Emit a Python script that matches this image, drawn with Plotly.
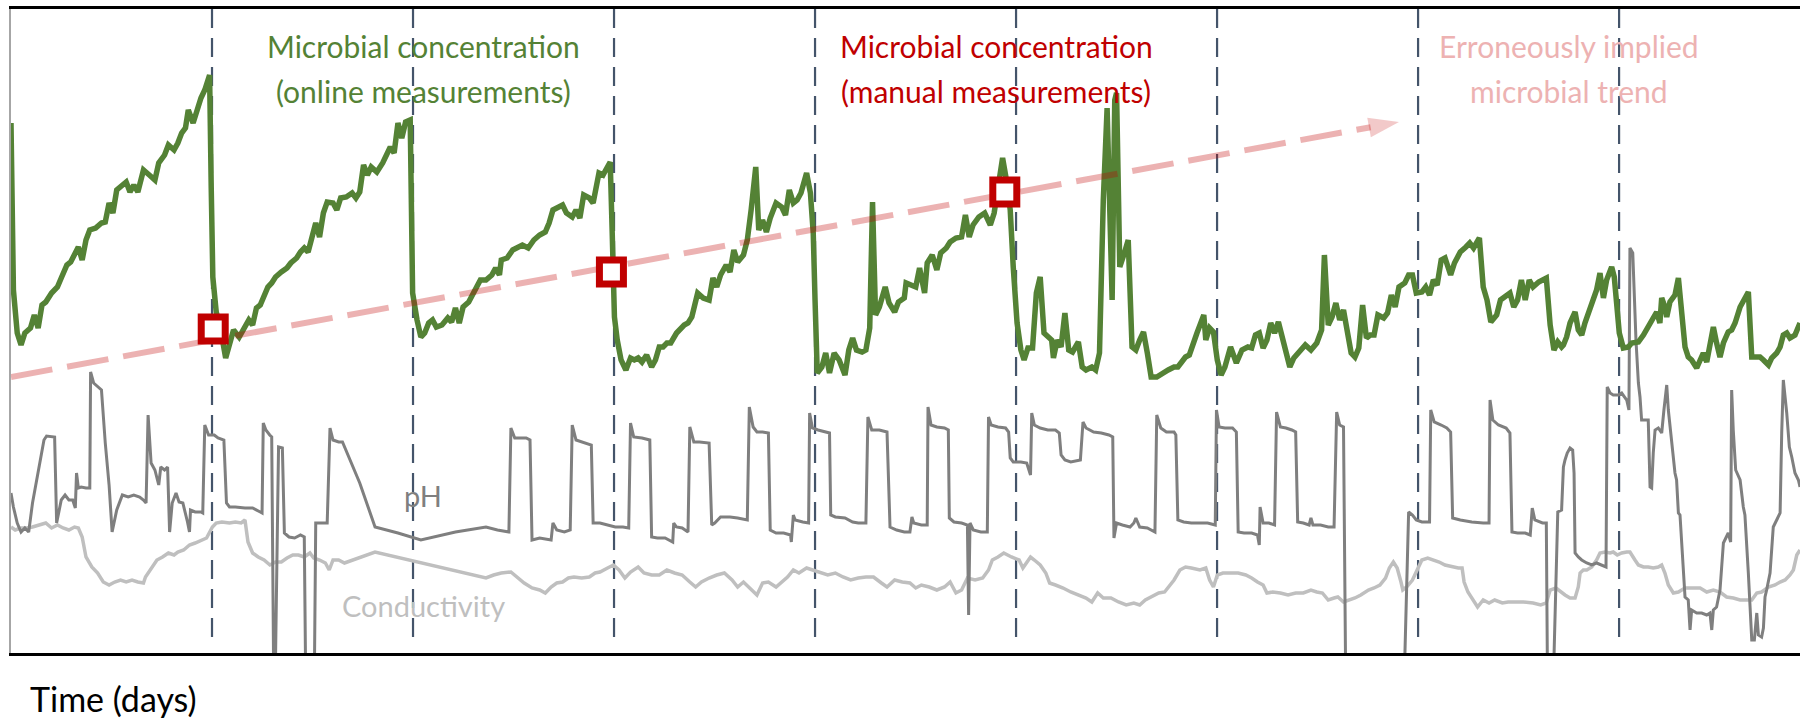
import plotly.graph_objects as go

# ---- data (x in days, y in arbitrary signal units) ----
green_readings = [
(0.000,530),(0.012,363),(0.031,320),(0.050,308),(0.069,320),(0.097,325),(0.116,338),(0.135,325),(0.154,348),(0.173,351),(0.202,360),(0.231,366),(0.250,375),(0.278,388),(0.297,391),(0.316,400),(0.335,406),(0.354,393),(0.373,413),(0.392,423),(0.421,425),(0.450,430),(0.469,431),(0.488,450),(0.507,440),(0.526,463),(0.545,466),(0.573,471),(0.592,461),(0.611,468),(0.631,461),(0.659,483),(0.688,478),(0.716,473),(0.735,490),(0.764,498),(0.783,508),(0.811,503),(0.830,510),(0.849,520),(0.868,525),(0.882,543),(0.906,530),(0.926,543),(0.945,555),(0.964,563),(0.988,578),(0.996,466),(1.004,376),(1.021,341),(1.046,320),(1.068,295),(1.087,310),(1.107,323),(1.135,316),(1.154,323),(1.183,333),(1.202,328),(1.221,345),(1.240,348),(1.259,358),(1.278,366),(1.297,370),(1.316,376),(1.345,381),(1.373,385),(1.392,390),(1.421,395),(1.440,401),(1.459,405),(1.478,401),(1.497,416),(1.516,430),(1.535,416),(1.554,440),(1.573,451),(1.602,450),(1.621,443),(1.640,455),(1.668,456),(1.697,460),(1.716,455),(1.735,461),(1.754,488),(1.773,478),(1.792,486),(1.820,481),(1.849,490),(1.868,498),(1.887,506),(1.906,500),(1.925,530),(1.944,515),(1.963,531),(1.986,533),(1.998,360),(2.020,333),(2.039,316),(2.058,320),(2.078,330),(2.097,333),(2.116,326),(2.144,328),(2.173,335),(2.192,331),(2.211,345),(2.230,330),(2.249,346),(2.277,351),(2.306,361),(2.335,373),(2.363,373),(2.392,378),(2.411,385),(2.430,378),(2.439,393),(2.468,395),(2.496,403),(2.525,406),(2.544,408),(2.573,405),(2.601,413),(2.630,418),(2.658,421),(2.677,430),(2.696,443),(2.725,446),(2.744,448),(2.763,440),(2.792,436),(2.811,443),(2.830,435),(2.849,458),(2.877,455),(2.896,450),(2.925,480),
(2.945,478),(2.959,483),(2.972,490),(2.981,491),(2.991,420),(3.002,336),(3.016,313),(3.035,293),(3.059,283),(3.082,295),(3.101,293),(3.120,295),(3.139,291),(3.162,298),(3.187,286),(3.206,293),(3.225,306),(3.244,306),(3.263,310),(3.282,310),(3.311,320),(3.330,325),(3.349,328),(3.368,330),(3.387,336),(3.416,360),(3.444,355),(3.473,353),(3.492,375),(3.511,366),(3.530,378),(3.558,388),(3.577,381),(3.596,403),(3.615,391),(3.644,398),(3.663,413),(3.682,443),(3.692,463),(3.705,486),(3.720,423),(3.739,433),(3.758,421),(3.777,435),(3.806,450),(3.834,446),(3.853,438),(3.872,463),(3.892,450),(3.911,453),(3.930,460),(3.958,480),(3.977,460),(3.991,420),(4.000,353),(4.011,280),(4.034,286),(4.053,300),(4.072,280),(4.095,300),(4.120,293),(4.149,278),(4.168,303),(4.187,315),(4.206,303),(4.234,301),(4.253,303),(4.272,325),(4.286,451),(4.301,338),(4.320,346),(4.349,366),(4.368,350),(4.396,341),(4.415,351),(4.444,355),(4.453,370),(4.482,368),(4.501,366),(4.520,385),(4.545,360),(4.558,390),(4.583,398),(4.606,383),(4.625,400),(4.653,405),(4.672,411),(4.701,415),(4.729,416),(4.748,438),(4.767,416),(4.786,428),(4.815,436),(4.844,440),(4.872,428),(4.891,440),(4.910,463),(4.933,495),(4.952,473),(4.971,443),(4.986,386),(5.005,330),(5.024,303),(5.040,293),(5.059,305),(5.082,305),(5.101,360),(5.120,376),(5.139,320),(5.158,316),(5.177,313),(5.186,295),(5.205,313),(5.224,306),(5.243,340),(5.262,303),(5.281,301),(5.310,311),(5.329,286),(5.348,283),(5.377,286),(5.396,283),(5.415,300),(5.434,453),(5.453,545),(5.478,353),(5.491,553),(5.500,560),(5.516,386),(5.539,400),(5.558,413),(5.577,306),(5.596,303),(5.615,313),(5.634,321),(5.653,300),(5.672,276),(5.700,276),(5.729,280),(5.757,283),(5.786,286),(5.805,286),(5.824,291),(5.843,296),(5.862,298),(5.881,310),(5.900,320),
(5.934,338),(5.944,313),(5.963,325),(5.982,321),(6.001,293),(6.020,278),(6.039,286),(6.067,306),(6.096,290),(6.124,303),(6.153,306),(6.172,305),(6.191,318),(6.210,320),(6.229,305),(6.248,313),(6.267,330),(6.286,320),(6.305,331),(6.334,305),(6.362,286),(6.382,295),(6.410,301),(6.439,308),(6.467,303),(6.496,310),(6.520,323),(6.534,398),(6.553,328),(6.572,336),(6.591,350),(6.610,333),(6.629,343),(6.648,320),(6.667,300),(6.686,296),(6.705,305),(6.724,348),(6.743,315),(6.762,318),(6.781,318),(6.800,338),(6.829,335),(6.848,340),(6.867,358),(6.886,346),(6.905,366),(6.934,370),(6.953,378),(6.972,378),(6.991,360),(7.019,361),(7.038,366),(7.057,358),(7.076,373),(7.095,368),(7.115,393),(7.134,395),(7.162,378),(7.181,390),(7.210,401),(7.238,406),(7.257,410),(7.276,405),(7.305,415),(7.324,366),(7.343,353),(7.362,331),(7.391,338),(7.410,353),(7.438,358),(7.457,360),(7.476,346),(7.495,353),(7.514,373),(7.533,353),(7.553,373),(7.572,366),(7.600,371),(7.619,373),(7.638,375),(7.657,328),(7.676,303),(7.695,311),(7.714,306),
(7.723,308),(7.739,316),(7.756,330),(7.781,341),(7.797,323),(7.814,318),(7.830,330),(7.855,343),(7.872,351),(7.888,363),(7.905,380),(7.922,355),(7.938,373),(7.963,386),(7.976,376),(7.988,346),(8.001,320),(8.021,305),(8.046,306),(8.063,310),(8.079,310),(8.096,311),(8.121,318),(8.145,326),(8.170,335),(8.187,341),(8.203,330),(8.212,355),(8.228,346),(8.237,336),(8.253,351),(8.278,358),(8.295,375),(8.311,346),(8.328,306),(8.344,296),(8.361,293),(8.386,285),(8.402,291),(8.419,300),(8.436,291),(8.452,306),(8.469,326),(8.485,310),(8.502,296),(8.519,310),(8.543,321),(8.560,323),(8.577,330),(8.602,346),(8.618,353),(8.643,361),(8.660,296),(8.676,296),(8.701,296),(8.718,293),(8.743,288),(8.759,295),(8.784,300),(8.801,306),(8.817,318),(8.834,320),(8.850,315),(8.875,318),(8.900,330),
]

ph_readings = [
(0.000,160),(0.012,146),(0.031,130),(0.050,121),(0.069,125),(0.088,121),(0.107,150),(0.135,180),(0.164,213),(0.177,217),(0.202,216),(0.217,216),(0.227,130),(0.250,153),(0.269,158),(0.288,153),(0.307,153),(0.320,145),(0.326,180),(0.335,165),(0.349,166),(0.373,165),(0.392,165),(0.396,281),(0.411,270),(0.431,266),(0.450,263),(0.469,210),(0.488,168),(0.503,121),(0.526,143),(0.554,158),(0.583,156),(0.611,158),(0.640,156),(0.659,153),(0.672,150),(0.682,238),(0.697,190),(0.716,183),(0.735,168),(0.745,186),(0.764,183),(0.779,186),(0.789,121),(0.802,150),(0.821,160),(0.836,151),(0.855,150),(0.878,131),(0.888,121),(0.893,143),(0.916,141),(0.945,141),(0.954,140),(0.964,228),(0.983,218),(1.011,218),(1.030,215),(1.059,213),(1.072,150),(1.087,146),(1.116,146),(1.164,145),(1.202,145),(1.240,141),(1.249,140),(1.255,230),(1.268,223),(1.287,218),(1.297,216),(1.306,-5),(1.316,-5),(1.331,206),(1.350,205),(1.360,120),(1.383,116),(1.411,115),(1.440,118),(1.459,116),(1.465,-5),(1.510,-5),(1.516,130),(1.545,130),(1.573,130),(1.587,225),(1.602,213),(1.630,211),(1.649,211),(1.735,170),(1.811,126),(1.925,120),(2.039,113),(2.211,121),(2.363,126),(2.420,123),(2.477,121),(2.487,225),(2.506,215),(2.563,215),(2.582,213),(2.592,113),(2.630,115),(2.687,113),(2.696,130),(2.715,123),(2.753,121),(2.782,123),(2.792,228),(2.811,213),(2.858,210),(2.887,208),(2.896,130),(2.930,130),
(2.968,128),(3.006,126),(3.044,126),(3.073,125),(3.082,230),(3.098,216),(3.139,215),(3.178,213),(3.187,116),(3.216,115),(3.254,115),(3.292,111),(3.297,130),(3.311,126),(3.339,125),(3.368,121),(3.377,226),(3.397,211),(3.425,211),(3.473,210),(3.486,128),(3.501,130),(3.530,136),(3.577,136),(3.615,135),(3.663,133),(3.673,246),(3.692,226),(3.711,221),(3.739,221),(3.768,220),(3.777,123),(3.806,120),(3.844,120),(3.878,118),(3.882,111),(3.892,138),(3.901,133),(3.939,131),(3.968,130),(3.973,240),(3.987,225),(4.015,223),(4.053,221),(4.072,220),(4.078,138),(4.101,136),(4.149,135),(4.187,131),(4.215,130),(4.253,130),(4.263,236),(4.282,223),(4.320,223),(4.358,221),(4.373,126),(4.406,123),(4.444,121),(4.472,121),(4.482,136),(4.491,130),(4.529,128),(4.558,128),(4.562,246),(4.577,228),(4.606,226),(4.644,225),(4.663,223),(4.668,135),(4.691,131),(4.729,130),(4.758,128),(4.764,38),(4.771,130),(4.787,123),(4.825,121),(4.857,121),(4.863,236),(4.876,228),(4.910,226),(4.948,225),(4.963,221),(4.971,195),(4.986,191),(5.024,191),(5.053,190),(5.072,178),(5.078,240),(5.091,228),(5.120,225),(5.158,223),(5.196,223),(5.215,220),(5.224,198),(5.243,193),(5.272,191),(5.320,193),(5.333,231),(5.348,225),(5.386,221),(5.424,220),(5.462,218),(5.481,216),(5.487,115),(5.500,130),(5.529,128),(5.567,126),(5.586,130),(5.596,135),(5.615,126),(5.653,125),(5.691,121),(5.700,238),(5.720,225),(5.748,221),(5.786,221),(5.795,218),(5.805,133),(5.834,131),(5.872,130),(5.915,130),
(5.953,130),(5.991,128),(5.997,243),(6.010,226),(6.039,225),(6.077,225),(6.096,221),(6.105,121),(6.134,120),(6.172,120),(6.201,118),(6.210,108),(6.214,146),(6.229,130),(6.258,130),(6.286,128),(6.296,241),(6.315,226),(6.343,225),(6.372,223),(6.391,221),(6.401,131),(6.429,130),(6.458,128),(6.467,135),(6.477,128),(6.515,128),(6.553,126),(6.582,126),(6.595,241),(6.610,228),(6.629,226),(6.639,-5),(6.934,-5),(6.953,141),(6.972,138),(6.991,133),(7.019,131),(7.057,131),(7.063,243),(7.080,231),(7.115,228),(7.143,225),(7.162,221),(7.172,135),(7.210,133),(7.267,131),(7.324,130),(7.353,130),(7.358,253),(7.372,233),(7.400,228),(7.438,225),(7.457,220),(7.467,121),(7.495,120),(7.533,120),(7.558,118),(7.568,145),(7.581,133),(7.619,130),(7.638,130),(7.643,-5),(7.676,-5),(7.695,141),(7.714,143),
(7.723,186),(7.731,193),(7.742,200),(7.756,205),(7.769,203),(7.776,180),(7.781,100),(7.797,96),(7.814,93),(7.839,90),(7.864,88),(7.888,90),(7.913,88),(7.935,86),(7.941,266),(7.955,260),(7.971,258),(7.996,258),(8.013,260),(8.029,256),(8.038,253),(8.049,243),(8.054,405),(8.068,400),(8.074,363),(8.084,313),(8.096,270),(8.104,256),(8.112,233),(8.129,233),(8.145,233),(8.154,166),(8.162,165),(8.170,200),(8.179,223),(8.195,225),(8.212,220),(8.223,243),(8.237,268),(8.245,243),(8.262,213),(8.278,180),(8.286,173),(8.295,140),(8.303,138),(8.316,93),(8.328,56),(8.344,53),(8.353,23),(8.361,43),(8.386,40),(8.411,40),(8.436,38),(8.452,40),(8.461,23),(8.469,43),(8.485,46),(8.502,63),(8.519,110),(8.543,120),(8.555,111),(8.560,263),(8.568,223),(8.580,183),(8.602,173),(8.618,146),(8.626,138),(8.643,80),(8.651,53),(8.660,13),(8.673,13),(8.685,40),(8.693,18),(8.709,16),(8.718,25),(8.726,56),(8.734,63),(8.751,80),(8.767,126),(8.784,133),(8.801,140),(8.809,220),(8.817,273),(8.834,240),(8.847,206),(8.859,196),(8.875,180),(8.892,173),(8.900,166),
]

conductivity_readings = [
(0.000,126),(0.021,123),(0.050,125),(0.078,125),(0.107,126),(0.135,128),(0.173,130),(0.202,125),(0.231,128),(0.259,125),(0.288,123),(0.316,126),(0.335,125),(0.354,116),(0.373,96),(0.402,86),(0.431,80),(0.459,71),(0.488,68),(0.516,71),(0.545,73),(0.573,71),(0.602,73),(0.631,71),(0.659,70),(0.669,76),(0.697,85),(0.726,93),(0.754,96),(0.783,100),(0.811,98),(0.830,101),(0.859,103),(0.888,108),(0.916,110),(0.945,113),(0.973,115),(1.002,126),(1.021,130),(1.049,131),(1.087,130),(1.116,131),(1.145,130),(1.164,133),(1.179,111),(1.202,100),(1.230,96),(1.259,93),(1.288,88),(1.316,91),(1.345,91),(1.373,95),(1.402,98),(1.430,98),(1.459,96),(1.487,100),(1.506,95),(1.535,93),(1.564,90),(1.583,83),(1.602,93),(1.630,93),(1.659,90),(1.811,101),(2.363,75),(2.401,78),(2.439,80),(2.487,81),(2.525,75),(2.553,70),(2.592,65),(2.630,63),(2.658,60),(2.687,66),(2.715,70),(2.744,71),(2.773,75),(2.801,76),(2.839,75),(2.877,76),(2.906,80),
(2.930,81),(2.968,85),(2.997,88),(3.025,83),(3.054,75),(3.082,81),(3.120,86),(3.149,80),(3.187,78),(3.225,78),(3.263,83),(3.301,80),(3.339,78),(3.377,71),(3.406,66),(3.435,71),(3.473,75),(3.511,78),(3.549,80),(3.587,73),(3.615,66),(3.644,71),(3.682,63),(3.711,58),(3.739,70),(3.768,71),(3.806,66),(3.834,71),(3.863,76),(3.892,83),(3.920,80),(3.958,85),(3.987,83),(4.025,80),(4.063,78),(4.101,80),(4.139,76),(4.177,73),(4.215,75),(4.253,76),(4.291,76),(4.330,70),(4.358,66),(4.396,73),(4.434,71),(4.472,70),(4.501,65),(4.529,68),(4.568,66),(4.606,63),(4.644,66),(4.672,71),(4.701,60),(4.729,63),(4.758,75),(4.796,73),(4.834,75),(4.863,83),(4.882,93),(4.910,96),(4.939,100),(4.977,96),(5.015,93),(5.034,85),(5.053,90),(5.072,96),(5.091,93),(5.120,88),(5.148,80),(5.167,70),(5.196,68),(5.234,65),(5.272,61),(5.310,58),(5.348,55),(5.377,51),(5.406,60),(5.434,55),(5.472,55),(5.510,51),(5.548,48),(5.586,50),(5.615,48),(5.643,53),(5.672,56),(5.710,60),(5.739,61),(5.767,68),(5.786,73),(5.815,83),(5.843,86),(5.872,85),
(5.915,83),(5.944,85),(5.963,73),(5.982,66),(6.001,78),(6.029,80),(6.067,80),(6.105,80),(6.143,78),(6.172,75),(6.201,71),(6.229,68),(6.248,60),(6.277,61),(6.315,60),(6.353,58),(6.391,60),(6.429,60),(6.467,63),(6.496,61),(6.524,60),(6.553,53),(6.582,55),(6.601,56),(6.629,51),(6.658,53),(6.686,55),(6.715,58),(6.753,63),(6.781,65),(6.810,68),(6.838,75),(6.857,85),(6.877,91),(6.896,85),(6.915,71),(6.924,63),(6.943,66),(6.972,73),(7.000,85),(7.019,93),(7.048,95),(7.076,93),(7.105,91),(7.134,88),(7.172,86),(7.200,85),(7.219,85),(7.229,71),(7.248,61),(7.276,53),(7.296,46),(7.324,53),(7.353,50),(7.381,53),(7.419,50),(7.448,51),(7.486,51),(7.524,51),(7.572,50),(7.610,48),(7.638,50),(7.657,63),(7.686,65),(7.714,60),
(7.731,58),(7.756,55),(7.781,55),(7.797,66),(7.806,80),(7.822,83),(7.839,83),(7.864,86),(7.888,93),(7.905,100),(7.930,101),(7.955,100),(7.971,101),(7.991,98),(8.013,100),(8.038,101),(8.054,101),(8.079,93),(8.096,88),(8.121,86),(8.145,86),(8.170,85),(8.195,86),(8.212,88),(8.228,80),(8.245,68),(8.270,60),(8.295,61),(8.328,65),(8.361,65),(8.403,65),(8.436,61),(8.469,63),(8.502,61),(8.535,56),(8.568,55),(8.602,53),(8.635,53),(8.660,53),(8.685,60),(8.709,61),(8.743,66),(8.776,68),(8.801,71),(8.826,73),(8.850,78),(8.867,83),(8.884,98),(8.900,103),
]

manual_days = [1.006, 2.987, 4.944]
manual_values = [324, 381, 461]

trend_days = [0.0, 6.905]
trend_values = [276, 531]

event_days = [1, 2, 3, 4, 5, 6, 7, 8]

x_range = [0, 8.9]
y_range = [0, 644]

GREEN = "#548235"
RED = "#C00000"
PINK_LINE = "rgba(192,0,0,0.3)"
PINK_TEXT = "#EDB2B2"
PH_GRAY = "#7F7F7F"
COND_GRAY = "#BFBFBF"
FONT = "Lato, Carlito, Calibri, sans-serif"

def unzip(pairs):
    return [p[0] for p in pairs], [p[1] for p in pairs]

gx, gy = unzip(green_readings)
px, py = unzip(ph_readings)
cx, cy = unzip(conductivity_readings)

fig = go.Figure()
fig.add_trace(go.Scatter(x=cx, y=cy, mode="lines", line=dict(color=COND_GRAY, width=3.5), hoverinfo="skip"))
fig.add_trace(go.Scatter(x=px, y=py, mode="lines", line=dict(color=PH_GRAY, width=3), hoverinfo="skip"))
fig.add_trace(go.Scatter(x=gx, y=gy, mode="lines", line=dict(color=GREEN, width=5.5), hoverinfo="skip"))
fig.add_trace(go.Scatter(
    x=trend_days, y=trend_values, mode="lines+markers",
    line=dict(color=PINK_LINE, width=6, dash="42px,15px"),
    marker=dict(symbol="arrow", size=[0, 32], angleref="previous", color=PINK_LINE, line=dict(width=0)),
    hoverinfo="skip"))
fig.add_trace(go.Scatter(
    x=manual_days, y=manual_values, mode="markers",
    marker=dict(symbol="square", size=24, color="white", line=dict(color=RED, width=7)),
    hoverinfo="skip"))

for d in event_days:
    fig.add_shape(type="line", xref="x", yref="paper", x0=d, x1=d, y0=1, y1=0.012,
                  line=dict(color="#44546A", width=2.2, dash="19px,10px"), layer="below")

def label(text, x, y, color, size=30, xanchor="center"):
    fig.add_annotation(text=text, x=x, y=y, xref="paper", yref="paper", showarrow=False,
                       xanchor=xanchor, yanchor="middle", font=dict(family=FONT, size=size, color=color))

label("Microbial concentration", 0.2303, 0.943, GREEN)
label("(online measurements)", 0.2303, 0.872, GREEN)
label("Microbial concentration", 0.5506, 0.943, RED)
label("(manual measurements)", 0.5506, 0.872, RED)
label("Erroneously implied", 0.8709, 0.943, PINK_TEXT)
label("microbial trend", 0.8709, 0.872, PINK_TEXT)
label("pH", 0.2303, 0.2453, PH_GRAY, size=29)
label("Conductivity", 0.2303, 0.0745, COND_GRAY, size=29)
label("Time (days)", 0.0095, -0.071, "black", size=34, xanchor="left")

fig.update_layout(
    width=1800, height=720,
    margin=dict(l=11, r=0, t=9, b=67),
    plot_bgcolor="white", paper_bgcolor="white",
    showlegend=False,
    xaxis=dict(range=x_range, showgrid=False, zeroline=False, showticklabels=False, ticks="",
               showline=True, linecolor="black", linewidth=3, mirror=True),
    yaxis=dict(range=y_range, showgrid=False, zeroline=False, showticklabels=False, ticks="",
               showline=True, linecolor="#A6A6A6", linewidth=2),
)

fig.write_html("out.html", config={"displayModeBar": False})
